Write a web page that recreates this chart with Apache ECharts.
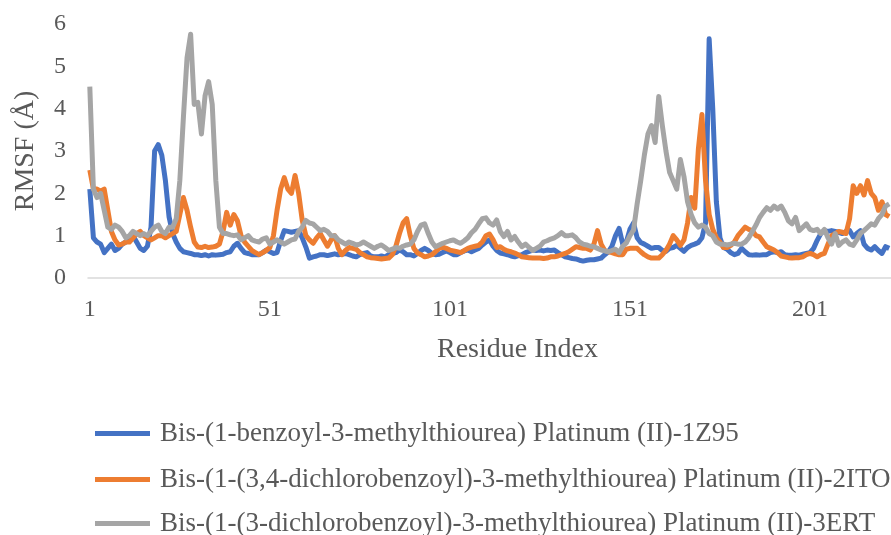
<!DOCTYPE html>
<html>
<head>
<meta charset="utf-8">
<title>RMSF</title>
<script src="https://cdn.jsdelivr.net/npm/echarts@6/dist/echarts.min.js"></script>
<style>
  html, body { margin: 0; padding: 0; background: #fff; }
  #chart { width: 891px; height: 535px; }
</style>
</head>
<body>
<div id="chart"></div>
<script>
// residue numbers on the x axis
var residues = [];
for (var i = 1; i <= 223; i++) residues.push(String(i));

var names = [
  'Bis-(1-benzoyl-3-methylthiourea) Platinum (II)-1Z95',
  'Bis-(1-(3,4-dichlorobenzoyl)-3-methylthiourea) Platinum (II)-2ITO',
  'Bis-(1-(3-dichlorobenzoyl)-3-methylthiourea) Platinum (II)-3ERT'
];

var colors = ['#4472C4', '#ED7D31', '#A5A5A5'];

// RMSF values
var rmsf1Z95 = [
  2.1, 0.95, 0.85, 0.8, 0.6, 0.7, 0.8, 0.65, 0.7,
  0.8, 0.85, 0.95, 1.0, 0.85, 0.7, 0.65, 0.75, 1.2, 3.0,
  3.15, 2.9, 2.3, 1.45, 1.05, 0.85, 0.7, 0.62, 0.6, 0.58,
  0.55, 0.55, 0.53, 0.55, 0.52, 0.55, 0.54, 0.55, 0.56, 0.6,
  0.62, 0.75, 0.82, 0.7, 0.6, 0.58, 0.55, 0.55, 0.55, 0.6,
  0.66, 0.62, 0.58, 0.6, 0.88, 1.12, 1.1, 1.08, 1.1, 1.12,
  0.95, 0.73, 0.47, 0.5, 0.52, 0.55, 0.55, 0.53, 0.55, 0.57,
  0.55, 0.56, 0.58, 0.55, 0.52, 0.5, 0.55, 0.58, 0.6, 0.52,
  0.5, 0.5, 0.52, 0.5, 0.55, 0.58, 0.6, 0.66, 0.62, 0.55,
  0.55, 0.52, 0.58, 0.65, 0.7, 0.65, 0.58, 0.55, 0.56, 0.6,
  0.64, 0.6, 0.55, 0.55, 0.6, 0.64, 0.66, 0.62, 0.66, 0.7,
  0.78, 0.85, 0.9, 0.75, 0.65, 0.59, 0.57, 0.55, 0.52, 0.5,
  0.53, 0.55, 0.6, 0.63, 0.66, 0.65, 0.66, 0.64, 0.66, 0.65,
  0.66, 0.6, 0.55, 0.5, 0.48, 0.46, 0.45, 0.42, 0.4, 0.42,
  0.43, 0.43, 0.45, 0.47, 0.55, 0.62, 0.75, 1.0, 1.17, 0.8,
  0.85, 1.15, 1.3, 0.95, 0.84, 0.8, 0.75, 0.7, 0.72, 0.72,
  0.65, 0.63, 0.7, 0.72, 0.77, 0.7, 0.63, 0.72, 0.77, 0.8,
  0.84, 0.95, 1.3, 5.65, 4.0, 1.8, 0.95, 0.72, 0.68, 0.6,
  0.55, 0.58, 0.7, 0.62, 0.55, 0.54, 0.55, 0.54, 0.55, 0.55,
  0.6, 0.62, 0.6, 0.62, 0.55, 0.54, 0.54, 0.55, 0.54, 0.56,
  0.58, 0.6, 0.7, 0.89, 1.05, 1.12, 1.1, 1.12, 1.1, 1.08,
  1.05, 1.1, 1.12, 0.97, 1.05, 1.12, 0.8, 0.7, 0.66, 0.74,
  0.65, 0.58, 0.74, 0.7
];

var rmsf2ITO = [
  2.55, 2.1, 2.1, 2.05, 2.1, 1.6, 1.1, 0.9, 0.78,
  0.8, 0.85, 0.85, 0.95, 1.05, 1.1, 1.0, 0.95, 0.9, 0.95,
  1.0, 1.0, 0.95, 1.0, 1.05, 1.1, 1.5, 1.9, 1.6, 1.2,
  0.85, 0.73, 0.72, 0.75, 0.72, 0.73, 0.75, 0.8, 1.1, 1.55,
  1.25, 1.5, 1.35, 1.0, 0.85, 0.75, 0.65, 0.6, 0.55, 0.6,
  0.65, 0.72, 1.0, 1.6, 2.1, 2.37, 2.1, 2.0, 2.42, 2.0,
  1.36, 1.0, 0.9, 0.82, 0.95, 1.05, 0.9, 0.75, 0.9, 1.0,
  0.7, 0.55, 0.65, 0.72, 0.7, 0.68, 0.6, 0.55, 0.5, 0.48,
  0.47, 0.46, 0.45, 0.46, 0.47, 0.55, 0.75, 1.05, 1.3, 1.4,
  1.0, 0.7, 0.59, 0.55, 0.5, 0.52, 0.55, 0.62, 0.7, 0.73,
  0.7, 0.66, 0.64, 0.62, 0.6, 0.65, 0.7, 0.73, 0.75, 0.77,
  0.85, 1.0, 1.04, 0.9, 0.72, 0.74, 0.68, 0.64, 0.62, 0.59,
  0.55, 0.5, 0.49, 0.48, 0.47, 0.47, 0.47, 0.46, 0.47, 0.5,
  0.5, 0.52, 0.55, 0.58, 0.62, 0.68, 0.74, 0.72, 0.7, 0.7,
  0.66, 0.8, 1.12, 0.8, 0.65, 0.62, 0.6, 0.57, 0.55, 0.55,
  0.68, 0.7, 0.7, 0.7, 0.62, 0.55, 0.5, 0.47, 0.47, 0.47,
  0.55, 0.65, 0.8, 1.0, 0.9, 0.77, 0.9, 1.3, 1.9, 1.65,
  3.04, 3.86, 2.3, 1.5, 1.15, 0.95, 0.85, 0.72, 0.72, 0.77,
  0.85, 1.0, 1.1, 1.2, 1.15, 1.12, 1.0, 0.97, 0.85, 0.74,
  0.7, 0.66, 0.6, 0.52, 0.5, 0.48, 0.47, 0.48, 0.48, 0.5,
  0.55, 0.58, 0.55, 0.5, 0.55, 0.58, 0.8, 1.0, 1.05, 1.1,
  1.08, 1.05, 1.4, 2.18, 2.0, 2.18, 1.96, 2.3, 2.0, 1.9,
  1.6, 1.8, 1.5, 1.45
];

var rmsf3ERT = [
  4.52, 2.1, 1.9, 2.0, 1.6, 1.2, 1.15, 1.25, 1.2,
  1.1, 0.95, 1.0, 1.1, 1.05, 1.0, 1.05, 1.0, 1.1, 1.2,
  1.25, 1.1, 1.05, 1.2, 1.2, 1.4, 2.3, 3.8, 5.2, 5.76,
  4.1, 4.15, 3.4, 4.3, 4.64, 4.1, 2.3, 1.2, 1.05, 1.05,
  1.02, 1.0, 1.02, 0.9, 0.95, 1.0, 0.9, 0.87, 0.85, 0.92,
  0.95, 0.8, 0.85, 0.9, 0.85, 0.8, 0.85, 0.9, 0.92, 1.1,
  1.2, 1.36, 1.3, 1.28, 1.2, 1.12, 1.15, 1.1, 1.0, 1.0,
  0.9, 0.85, 0.8, 0.85, 0.82, 0.78, 0.8, 0.85, 0.8, 0.75,
  0.7, 0.75, 0.78, 0.72, 0.65, 0.68, 0.72, 0.7, 0.75, 0.78,
  0.8, 0.9, 1.1, 1.25, 1.28, 1.05, 0.85, 0.74, 0.78, 0.82,
  0.85, 0.88, 0.9, 0.85, 0.82, 0.88, 0.95, 1.07, 1.15, 1.28,
  1.4, 1.42, 1.3, 1.25, 1.37, 1.1, 0.98, 1.1, 0.9, 0.98,
  0.85, 0.74, 0.8, 0.72, 0.65, 0.7, 0.75, 0.85, 0.88, 0.92,
  0.95, 1.0, 1.07, 1.0, 1.0, 1.02, 0.95, 0.85, 0.8, 0.78,
  0.75, 0.74, 0.7, 0.66, 0.64, 0.62, 0.65, 0.68, 0.6, 0.75,
  0.83, 1.0, 1.13, 1.75, 2.3, 2.9, 3.4, 3.6, 3.2, 4.29,
  3.6, 3.0, 2.5, 2.3, 2.1, 2.8, 2.4, 1.8, 1.5, 1.3,
  1.2, 1.25, 1.2, 1.05, 1.0, 0.85, 0.8, 0.8, 0.78, 0.8,
  0.82, 0.8, 0.8, 0.85, 0.95, 1.1, 1.25, 1.43, 1.55, 1.66,
  1.6, 1.7, 1.63, 1.7, 1.55, 1.35, 1.28, 1.43, 1.12, 1.2,
  1.28, 1.15, 1.12, 1.15, 1.05, 1.15, 0.95, 0.8, 1.05, 0.77,
  0.85, 0.9, 0.8, 0.77, 0.9, 1.05, 1.12, 1.2, 1.28, 1.25,
  1.4, 1.5, 1.7, 1.75
];

var seriesData = [rmsf1Z95, rmsf2ITO, rmsf3ERT];
var legendTops = [420, 466, 510];

var font = 'Liberation Serif';
var textColor = '#595959';

var chart = echarts.init(document.getElementById('chart'), null, { renderer: 'canvas' });

var series = [];
var legends = [];
names.forEach(function (n, k) {
  series.push({
    name: n,
    type: 'line',
    data: seriesData[k],
    symbol: 'none',
    smooth: false,
    animation: false,
    lineStyle: { color: colors[k], width: 5, join: 'round' },
    itemStyle: { color: colors[k] }
  });
  // one legend per row so the rows never wrap into columns
  legends.push({
    orient: 'vertical',
    left: 95,
    top: legendTops[k],
    padding: 0,
    itemWidth: 55,
    itemHeight: 14,
    icon: 'path://M0,4.5 L55,4.5 L55,9.5 L0,9.5 Z',
    textStyle: { fontFamily: font, fontSize: 27, lineHeight: 24, color: textColor, padding: [0, 0, 0, 5] },
    data: [n]
  });
});

chart.setOption({
  backgroundColor: '#fff',
  animation: false,
  grid: { left: 88, right: -5, top: 24, bottom: 257, containLabel: false },
  xAxis: {
    type: 'category',
    data: residues,
    boundaryGap: true,
    name: 'Residue Index',
    nameLocation: 'middle',
    nameGap: 58,
    nameTextStyle: { fontFamily: font, fontSize: 28, color: textColor, padding: [0, 0, 0, 56] },
    axisLine: { lineStyle: { color: '#D9D9D9', width: 1.5 } },
    axisTick: { show: false },
    axisLabel: {
      interval: 49,
      margin: 20,
      fontFamily: font,
      fontSize: 24,
      color: textColor
    },
    splitLine: { show: false }
  },
  yAxis: {
    type: 'value',
    min: 0,
    max: 6,
    interval: 1,
    name: 'RMSF (Å)',
    nameLocation: 'middle',
    nameGap: 48,
    nameRotate: 90,
    nameTextStyle: { fontFamily: font, fontSize: 28, color: textColor },
    axisLine: { show: false },
    axisTick: { show: false },
    axisLabel: { margin: 22, fontFamily: font, fontSize: 24, color: textColor },
    splitLine: { show: false }
  },
  legend: legends,
  series: series
});
</script>
</body>
</html>
